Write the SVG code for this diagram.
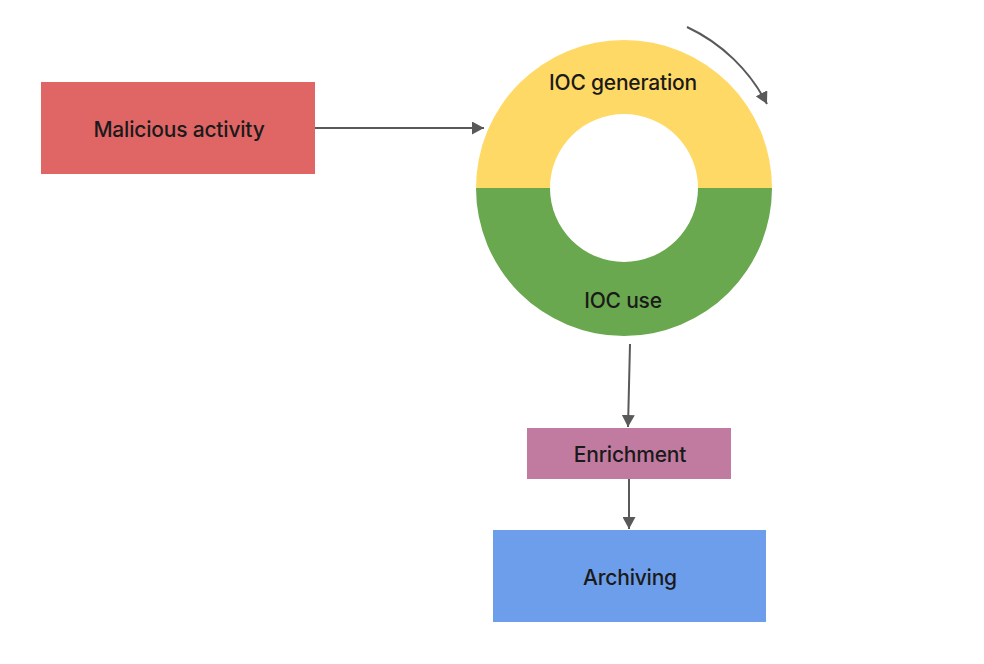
<svg xmlns="http://www.w3.org/2000/svg" width="984" height="664" viewBox="0 0 984 664">
<defs>
<style>
.lbl{font-family:Inter,"Liberation Sans",Arial,sans-serif;font-weight:500;font-size:21px;fill:#1a1a1a;text-anchor:middle;dominant-baseline:central;letter-spacing:-0.2px}
.conn{stroke:#595959;stroke-width:2;fill:none}
</style>
<marker id="ahb" markerWidth="13" markerHeight="13" refX="12" refY="6.5" orient="auto" markerUnits="userSpaceOnUse" viewBox="0 0 13 13">
<path d="M0,0 L12,6.5 L0,13 Z" fill="#595959"/>
</marker>
</defs>
<rect width="984" height="664" fill="#ffffff"/>
<g id="malicious">
<rect x="41" y="82" width="274" height="92" fill="#e06666"/>
<text class="lbl" x="179" y="129">Malicious activity</text>
</g>
<g id="cycle">
<path d="M476,188 A148,148 0 0 1 772,188 L698,188 A74,74 0 0 0 550,188 Z" fill="#ffd966"/>
<path d="M476,188 A148,148 0 0 0 772,188 L698,188 A74,74 0 0 1 550,188 Z" fill="#6aa84f"/>
<text class="lbl" x="623" y="82">IOC generation</text>
<text class="lbl" x="623" y="300">IOC use</text>
</g>
<g id="enrichment">
<rect x="527" y="428" width="204" height="51" fill="#c27ba0"/>
<text class="lbl" x="630" y="454">Enrichment</text>
</g>
<g id="archiving">
<rect x="493" y="530" width="273" height="92" fill="#6d9eeb"/>
<text class="lbl" x="630" y="577">Archiving</text>
</g>
<g id="connectors">
<line class="conn" x1="315" y1="128" x2="484" y2="128" marker-end="url(#ahb)"/>
<line class="conn" x1="630" y1="344" x2="628" y2="427" marker-end="url(#ahb)"/>
<line class="conn" x1="629" y1="479" x2="629" y2="529" marker-end="url(#ahb)"/>
<path class="conn" d="M687,27 A172,172 0 0 1 767,104" marker-end="url(#ahb)"/>
</g>
</svg>
